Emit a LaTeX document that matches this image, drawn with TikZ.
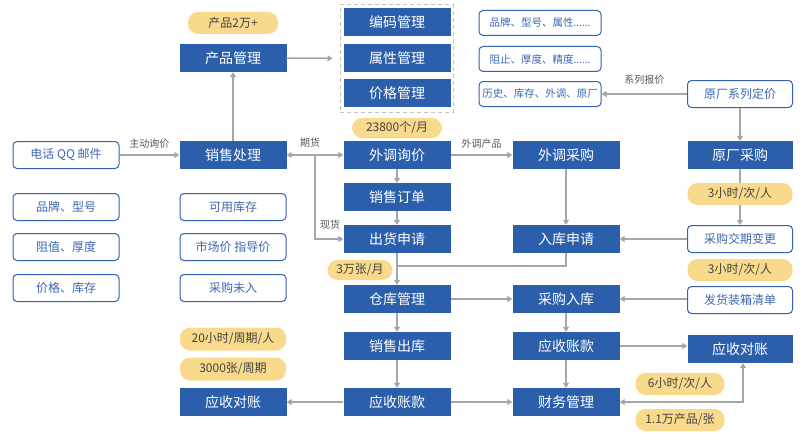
\documentclass[tikz,border=0pt]{standalone}
\usepackage{fontspec}
\setmainfont{Noto Sans CJK SC}
\newfontfamily\latinfont{Noto Sans}
\usetikzlibrary{arrows.meta,chains,scopes}
\definecolor{boxblue}{HTML}{2B5FAC}
\definecolor{edgeblue}{HTML}{3562AE}
\definecolor{optblue}{HTML}{3D68B0}
\definecolor{tagfill}{HTML}{F9D98C}
\definecolor{tagtext}{HTML}{444444}
\definecolor{linegray}{HTML}{A6A6A6}
\definecolor{lbltext}{HTML}{555555}
\definecolor{grpgray}{HTML}{C4C4C4}
\tikzset{>={Triangle[length=5pt,width=6pt]},
         every join/.style={flow}}
\tikzset{blk/.style={fill=boxblue, text=white, minimum width=107pt, minimum height=28pt,
                     inner sep=0pt, font=\fontsize{14}{16}\selectfont},
         opt/.style={draw=edgeblue, line width=1pt, rounded corners=4pt, fill=white, text=optblue,
                     minimum width=106pt, minimum height=27pt, inner sep=0pt, font=\fontsize{12}{14}\selectfont},
         desc/.style={opt, minimum width=122pt, minimum height=25pt, font=\fontsize{10.5}{12}\selectfont},
         tag/.style={fill=tagfill, text=tagtext, rounded corners=10pt, minimum height=22pt,
                     inner sep=0pt, font=\fontsize{12}{14}\selectfont},
         flow/.style={draw=linegray, line width=1.6pt, ->},
         line/.style={draw=linegray, line width=1.6pt},
         lbl/.style={text=lbltext, font=\fontsize{10}{12}\selectfont, inner sep=1pt},
         grp/.style={draw=grpgray, line width=1pt, dash pattern=on 4pt off 3pt,
                     minimum width=113pt, minimum height=107pt, inner sep=0pt}}

\begin{document}
\begin{tikzpicture}[x=1pt, y=-1pt]
	\useasboundingbox (0,0) rectangle (811,444);

	\node[grp] (grp) at (396.5,58.5) {};
	\node[blk] (bmgl) at (397,22) {编码管理};
	\node[blk] (sxgl) at (397,58) {属性管理};
	\node[blk] (jggl) at (397,93) {价格管理};
	\node[desc] (dpp) at (540,23) {品牌、型号、属性{\latinfont ……}};
	\node[desc] (dzz) at (540,59) {阻止、厚度、精度{\latinfont ……}};
	\node[desc] (dls) at (540,94) {历史、库存、外调、原厂};

	\node[blk] (cpgl) at (233,58) {产品管理};
	\node[blk] (xscl) at (233,155) {销售处理};
	\node[opt] (dhqq) at (66,155) {电话 QQ 邮件};
	\node[opt] (ppxh) at (66,207) {品牌、型号};
	\node[opt] (zzhd) at (66,247) {阻值、厚度};
	\node[opt] (jgkc) at (66,288) {价格、库存};
	\node[opt] (kykc) at (233,207) {可用库存};
	\node[opt] (scjg) at (233,247) {市场价 指导价};
	\node[opt] (cgwr) at (233,288) {采购未入};
	\node[blk] (ysdzL) at (233,402) {应收对账};

	\node[blk] (wtxj) at (397,155) {外调询价};
	\node[blk] (xsdd) at (397,197) {销售订单};
	\node[blk] (chsq) at (397,239) {出货申请};
	\node[blk] (ckgl) at (397,299) {仓库管理};
	\node[blk] (xsck) at (397,346) {销售出库};
	\node[blk] (yszkM) at (397,402) {应收账款};

	\node[blk] (wtcg) at (566,155) {外调采购};
	\node[blk] (rksq) at (566,239) {入库申请};
	\node[blk] (cgrk) at (566,299) {采购入库};
	\node[blk] (yszkR) at (566,346) {应收账款};
	\node[blk] (cwgl) at (566,402) {财务管理};

	\node[opt, minimum width=105pt] (ycdj) at (740,94) {原厂系列定价};
	\node[blk, minimum width=105pt] (yccg) at (740,155) {原厂采购};
	\node[opt, minimum width=105pt] (cgjq) at (740,239) {采购交期变更};
	\node[opt, minimum width=105pt] (fhzx) at (740,300) {发货装箱清单};
	\node[blk, minimum width=105pt] (ysdzR) at (740,349) {应收对账};

	{ [start chain]
		\chainin (wtxj);
		\chainin (xsdd) [join];
		\chainin (chsq) [join];
		\chainin (ckgl) [join];
		\chainin (xsck) [join];
		\chainin (yszkM) [join];
	}
	{ [start chain] \chainin (wtcg); \chainin (rksq) [join]; }
	{ [start chain] \chainin (cgrk); \chainin (yszkR) [join]; \chainin (cwgl) [join]; }
	{ [start chain] \chainin (ycdj); \chainin (yccg) [join]; \chainin (cgjq) [join]; }

	\coordinate (fork) at (315,155);
	\coordinate (mrg) at (397,266);
	\draw[flow] (dhqq) -- node[lbl, above=5pt] {主动询价} (xscl);
	\draw[flow] (xscl) -- (cpgl);
	\draw[flow, shorten >=7pt] (cpgl) -- (grp);
	\draw[flow, <->] (xscl) -- (wtxj);
	\node[lbl] (qh) at (310,143) {期货};
	\draw[flow] (fork) |- (chsq);
	\node[lbl] (xh) at (330,225) {现货};
	\draw[flow] (wtxj) -- node[lbl, above=5pt] {外调产品} (wtcg);
	\draw[line] (rksq) |- (mrg);
	\draw[flow] (ycdj) -- node[lbl, above=8pt] {系列报价} (dls);
	\draw[flow] (cgjq) -- (rksq);
	\draw[flow] (ckgl) -- (cgrk);
	\draw[flow] (fhzx.west |- cgrk) -- (cgrk);
	\draw[flow] (yszkR) -- (yszkR -| ysdzR.west);
	\draw[flow] (yszkM) -- (ysdzL);
	\draw[flow] (yszkM) -- (cwgl);
	\draw[flow, <->] (cwgl) -| ([xshift=3pt]ysdzR.south);

	\node[tag, minimum width=90pt] (t1) at (233,23) {产品2万+};
	\node[tag, minimum width=90pt, minimum height=20pt] (t2) at (397,128) {23800个/月};
	\node[tag, minimum width=65pt, minimum height=20pt] (t3) at (360,270) {3万张/月};
	\node[tag, minimum width=105pt] (t4) at (740,194) {3小时/次/人};
	\node[tag, minimum width=105pt] (t5) at (740,270) {3小时/次/人};
	\node[tag, minimum width=106pt, minimum height=23pt] (t6) at (233,339) {20小时/周期/人};
	\node[tag, minimum width=106pt, minimum height=23pt] (t7) at (233,369) {3000张/周期};
	\node[tag, minimum width=89pt] (t8) at (680,384) {6小时/次/人};
	\node[tag, minimum width=89pt] (t9) at (680,420) {1.1万产品/张};
\end{tikzpicture}
\end{document}
